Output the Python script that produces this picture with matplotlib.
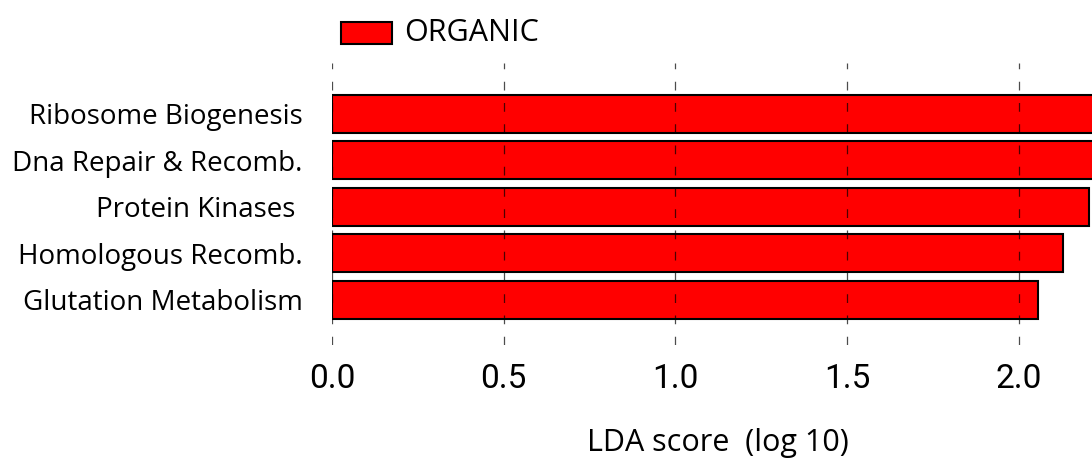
import matplotlib.pyplot as plt
from matplotlib.patches import Rectangle
from matplotlib import font_manager

# data
pathways = ['Ribosome Biogenesis', 'Dna Repair & Recomb.', 'Protein Kinases ',
            'Homologous Recomb.', 'Glutation Metabolism']
lda_scores = [2.30, 2.26, 2.204, 2.128, 2.055]
xticks = [0.0, 0.5, 1.0, 1.5, 2.0]
group = 'ORGANIC'

names = {f.name for f in font_manager.fontManager.ttflist}
label_font = 'Open Sans' if 'Open Sans' in names else 'DejaVu Sans'
tick_font = 'Roboto' if 'Roboto' in names else 'Liberation Sans'

fig = plt.figure(figsize=(10.92, 4.65), dpi=100)
ax = fig.add_axes([0.304, 0.258, 0.696, 0.607])

ypos = list(range(len(pathways)))[::-1]
ax.barh(ypos, lda_scores, height=0.82, color='#ff0000', edgecolor='black',
        linewidth=1.5, zorder=1)

ax.set_xlim(0, 2.213)
ax.set_ylim(-0.98, 5.1)
ax.set_xticks(xticks)
ax.set_xticklabels(['%.1f' % t for t in xticks], fontfamily=tick_font,
                   fontsize=24)
ax.set_yticks(ypos)
ax.set_yticklabels(pathways, fontfamily=label_font, fontsize=20)
ax.tick_params(axis='y', length=0, pad=21)
ax.tick_params(axis='x', length=0, pad=13)

for s in ax.spines.values():
    s.set_visible(False)
ax.grid(axis='x', linestyle=(0, (7, 10)), color='black', linewidth=0.9, alpha=0.7, zorder=3)
ax.set_axisbelow(False)

ax.set_xlabel('LDA score  (log 10)', fontfamily=label_font, fontsize=22)
ax.xaxis.label.set_va('center')
ax.xaxis.set_label_coords(0.508, -0.348)

# legend drawn by hand to match the placement
fig.patches.append(Rectangle((341 / 1092, 1 - 44 / 465), 51 / 1092, 22 / 465,
                             transform=fig.transFigure, facecolor='#ff0000',
                             edgecolor='black', linewidth=1.5))
fig.text(404 / 1092, 1 - 33 / 465, group, fontfamily=label_font, fontsize=22,
         va='center', ha='left')

fig.savefig('out.png', dpi=100)
